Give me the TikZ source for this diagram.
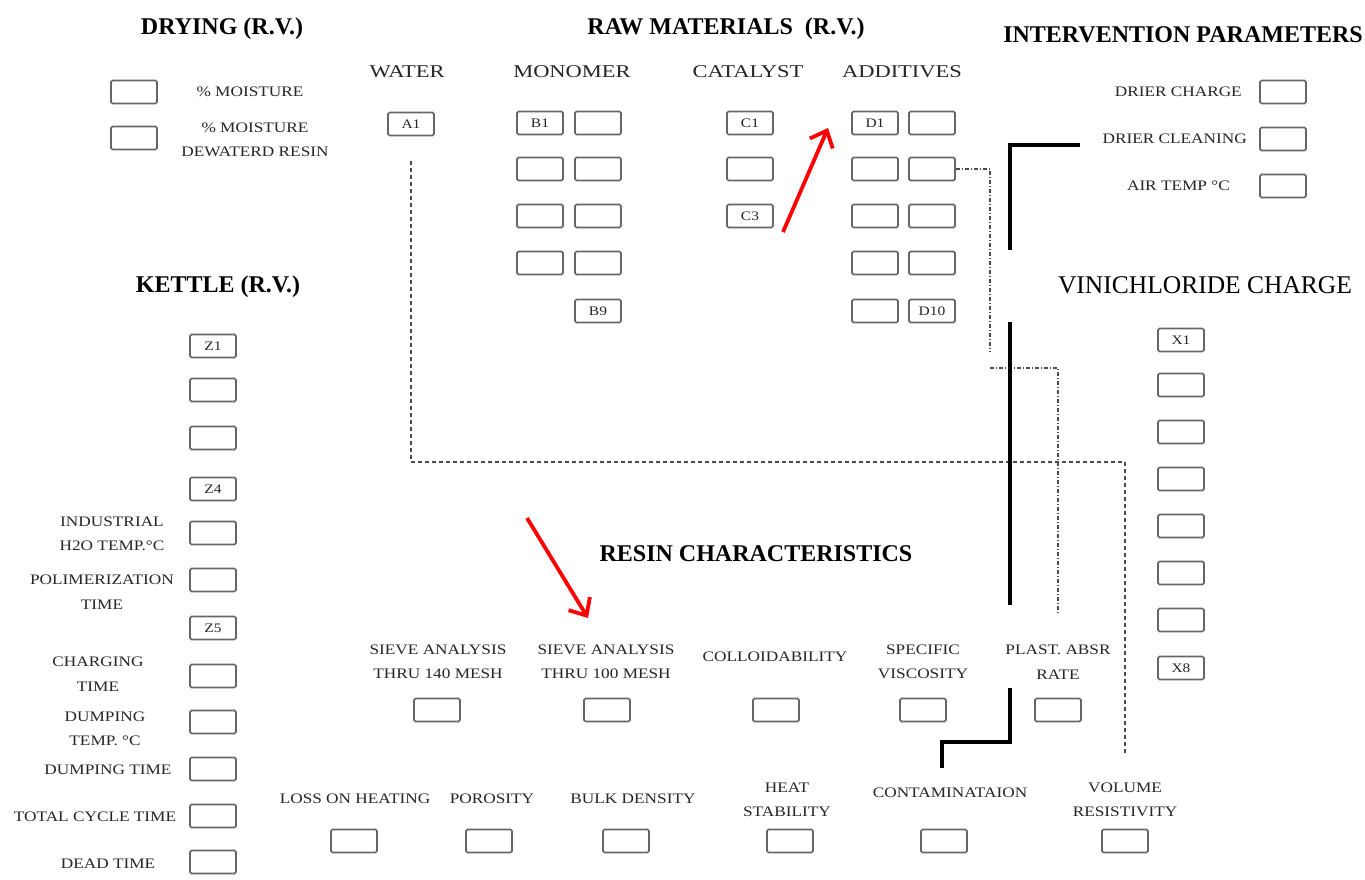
\documentclass[tikz,border=0pt]{standalone}
\usepackage{fontspec}
\setmainfont{Liberation Serif}
\newfontfamily\lblf[FakeStretch=1.19]{Liberation Serif}
\newfontfamily\hdrf[FakeStretch=1.25]{Liberation Serif}
\usetikzlibrary{arrows.meta}
\begin{document}
\begin{tikzpicture}[x=1pt,y=-1pt,
  box/.style={draw=black!60, line width=1.6pt, rounded corners=1.5pt, minimum width=46pt, minimum height=23pt, inner sep=0pt, font=\lblf\fontsize{13}{13}\selectfont, text=black!85},
  lbl/.style={align=center, font=\lblf\fontsize{14.5}{24.5}\selectfont, inner sep=0pt, text=black!85},
  hdr/.style={font=\hdrf\fontsize{18}{18}\selectfont, inner sep=0pt, text=black!85},
  ttl/.style={font=\bfseries\fontsize{24}{26}\selectfont, inner sep=0pt},
  ttlr/.style={font=\fontsize{25.5}{26}\selectfont, inner sep=0pt},
  dashline/.style={draw=black!70, line width=1.3pt, dash pattern=on 4pt off 3pt},
  ddline/.style={draw=black!70, line width=1.2pt, dash pattern=on 4pt off 2pt on 1pt off 2pt},
  heavy/.style={draw=black, line width=3.6pt},
  redarrow/.style={draw=red, line width=3.8pt, -{Straight Barb[length=14pt,width=25pt]}}]
\useasboundingbox[fill=white] (0,0) rectangle (1365,879);

% titles
\node[ttl] (dryt) at (222,29) {DRYING (R.V.)};
\node[ttl] (rawt) at (726,29) {RAW MATERIALS\ \ (R.V.)};
\node[ttl] (intt) at (1183,35) {INTERVENTION PARAMETERS};
\node[ttlr] (vint) at (1205,285) {VINICHLORIDE CHARGE};
\node[ttl] (kett) at (218,287) {KETTLE (R.V.)};
\node[ttl] (rest) at (756,554) {RESIN CHARACTERISTICS};

% drying
\node[box] (dr1) at (134,92) {};
\node[box] (dr2) at (134,138) {};
\node[lbl] (drl1) at (250,92) {\% MOISTURE};
\node[lbl] (drl2) at (255,140) {\% MOISTURE\\DEWATERD RESIN};

% raw materials headers
\node[hdr] (wath) at (407,72) {WATER};
\node[hdr] (monh) at (572,72) {MONOMER};
\node[hdr] (cath) at (748,72) {CATALYST};
\node[hdr] (addh) at (902,72) {ADDITIVES};

\node[box] (a1) at (411,124) {A1};

\node[box] (b11) at (540,123) {B1};
\node[box] (b12) at (598,123) {};
\node[box] (b21) at (540,169) {};
\node[box] (b22) at (598,169) {};
\node[box] (b31) at (540,216) {};
\node[box] (b32) at (598,216) {};
\node[box] (b41) at (540,263) {};
\node[box] (b42) at (598,263) {};
\node[box] (b52) at (598,311) {B9};

\node[box] (c1) at (750,123) {C1};
\node[box] (c2) at (750,169) {};
\node[box] (c3) at (750,216) {C3};

\node[box] (d11) at (875,123) {D1};
\node[box] (d12) at (932,123) {};
\node[box] (d21) at (875,169) {};
\node[box] (d22) at (932,169) {};
\node[box] (d31) at (875,216) {};
\node[box] (d32) at (932,216) {};
\node[box] (d41) at (875,263) {};
\node[box] (d42) at (932,263) {};
\node[box] (d51) at (875,311) {};
\node[box] (d52) at (932,311) {D10};

% intervention parameters
\node[lbl, anchor=east] (dch) at (1242,92) {DRIER CHARGE};
\node[lbl, anchor=east] (dcl) at (1247,139) {DRIER CLEANING};
\node[lbl, anchor=east] (atp) at (1230,186) {AIR TEMP °C};
\node[box] (i1) at (1283,92) {};
\node[box] (i2) at (1283,139) {};
\node[box] (i3) at (1283,186) {};

% vinichloride charge
\node[box] (x1) at (1181,340) {X1};
\node[box] (x2) at (1181,385) {};
\node[box] (x3) at (1181,432) {};
\node[box] (x4) at (1181,479) {};
\node[box] (x5) at (1181,526) {};
\node[box] (x6) at (1181,573) {};
\node[box] (x7) at (1181,620) {};
\node[box] (x8) at (1181,668) {X8};

% kettle
\node[box] (z1) at (213,346) {Z1};
\node[box] (z2) at (213,390) {};
\node[box] (z3) at (213,438) {};
\node[box] (z4) at (213,489) {Z4};
\node[box] (k5) at (213,533) {};
\node[box] (k6) at (213,580) {};
\node[box] (z5) at (213,628) {Z5};
\node[box] (k8) at (213,676) {};
\node[box] (k9) at (213,722) {};
\node[box] (k10) at (213,769) {};
\node[box] (k11) at (213,816) {};
\node[box] (k12) at (213,862) {};
\node[lbl] (kl5) at (112,534) {INDUSTRIAL\\H2O TEMP.°C};
\node[lbl] (kl6) at (102,592) {POLIMERIZATION\\TIME};
\node[lbl] (kl8) at (98,674) {CHARGING\\TIME};
\node[lbl] (kl9) at (105,729) {DUMPING\\TEMP. °C};
\node[lbl] (kl10) at (108,770) {DUMPING TIME};
\node[lbl] (kl11) at (95,817) {TOTAL CYCLE TIME};
\node[lbl] (kl12) at (108,864) {DEAD TIME};

% resin characteristics row 1
\node[lbl] (sv140) at (438,662) {SIEVE ANALYSIS\\THRU 140 MESH};
\node[lbl] (sv100) at (606,662) {SIEVE ANALYSIS\\THRU 100 MESH};
\node[lbl] (col) at (775,657) {COLLOIDABILITY};
\node[lbl] (spv) at (923,662) {SPECIFIC\\VISCOSITY};
\node[lbl] (pl) at (1058,662) {PLAST. ABSR\\RATE};
\node[box] (r1) at (437,710) {};
\node[box] (r2) at (607,710) {};
\node[box] (r3) at (776,710) {};
\node[box] (r4) at (923,710) {};
\node[box] (r5) at (1058,710) {};

% resin characteristics row 2
\node[lbl] (loh) at (355,799) {LOSS ON HEATING};
\node[lbl] (por) at (492,799) {POROSITY};
\node[lbl] (bd) at (633,799) {BULK DENSITY};
\node[lbl] (hs) at (787,800) {HEAT\\STABILITY};
\node[lbl] (cont) at (950,793) {CONTAMINATAION};
\node[lbl] (vr) at (1125,800) {VOLUME\\RESISTIVITY};
\node[box] (s1) at (354,841) {};
\node[box] (s2) at (489,841) {};
\node[box] (s3) at (626,841) {};
\node[box] (s4) at (790,841) {};
\node[box] (s5) at (944,841) {};
\node[box] (s6) at (1125,841) {};

% connector coordinates
\coordinate (w1) at (411,462);
\coordinate (w2) at (1125,462);
\coordinate (w3) at (1125,755);
\coordinate (dd1) at (990,169);
\coordinate (dd2) at (990,352);
\coordinate (dd3) at (990,368);
\coordinate (dd4) at (1058,368);
\coordinate (dd5) at (1058,613);
\coordinate (h0) at (1080,145);
\coordinate (h1) at (1010,145);
\coordinate (h2) at (1010,250);
\coordinate (h3) at (1010,322);
\coordinate (h4) at (1010,605);
\coordinate (h5) at (1010,688);
\coordinate (h6) at (1010,742);
\coordinate (h7) at (942,742);
\coordinate (h8) at (942,768);
\coordinate (ra1) at (783,232);
\coordinate (ra2) at (828,128);
\coordinate (rb1) at (527,518);
\coordinate (rb2) at (588,618);

% connectors
\draw[dashline, shorten <=25pt] (a1.south) -- (w1) -- (w2) -- (w3);
\draw[ddline] (d22.east) -- (dd1) -- (dd2);
\draw[ddline] (dd3) -- (dd4) -- (dd5);
\draw[heavy] (h0) -- (h1) -- (h2);
\draw[heavy] (h3) -- (h4);
\draw[heavy] (h5) -- (h6) -- (h7) -- (h8);
\draw[redarrow] (ra1) -- (ra2);
\draw[redarrow] (rb1) -- (rb2);
\end{tikzpicture}
\end{document}
